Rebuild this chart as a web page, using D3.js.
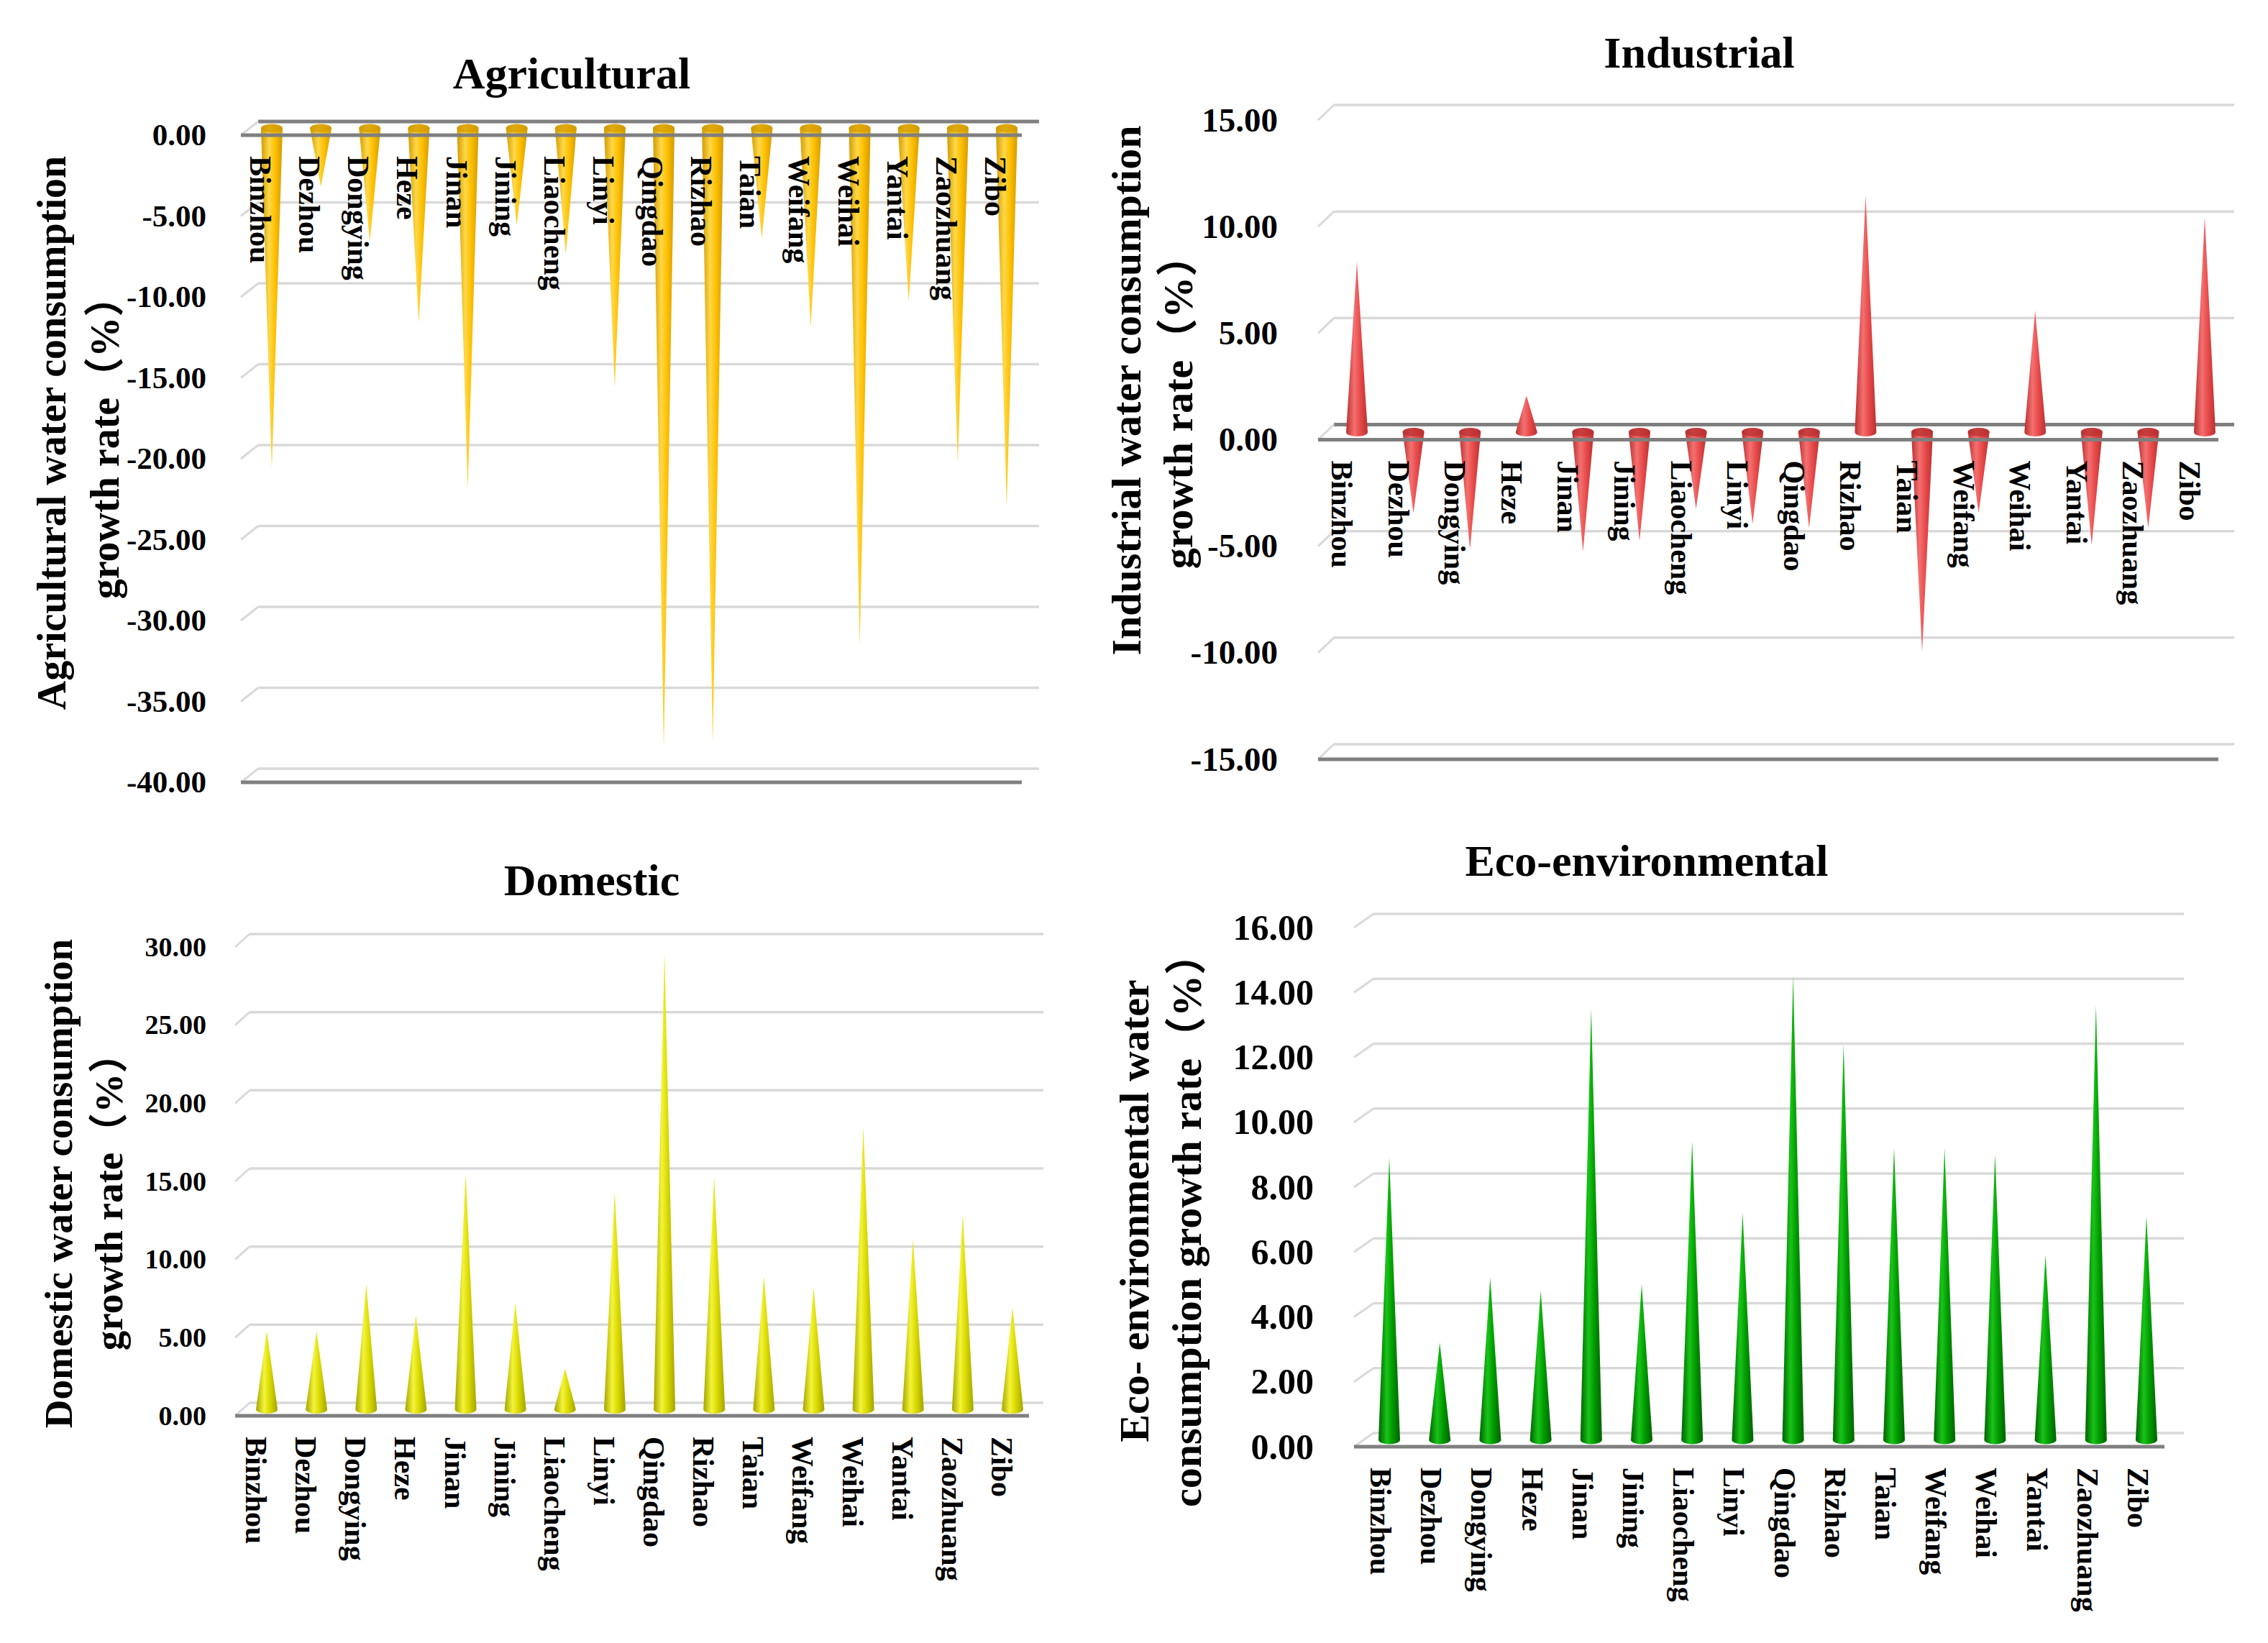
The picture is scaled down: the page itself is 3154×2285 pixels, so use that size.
<!DOCTYPE html>
<html>
<head>
<meta charset="utf-8">
<title>Water consumption growth rate by city</title>
<script src="https://d3js.org/d3.v7.min.js"></script>
<style>
  body { margin: 0; background: #fff; }
  svg text { font-family: "Liberation Serif", "Times New Roman", "Noto Sans CJK SC", serif; font-weight: bold; fill: #000; }
</style>
</head>
<body>
<svg id="chart"></svg>
<script>
// cities on the category axis (same order in every panel)
const cities = ["Binzhou", "Dezhou", "Dongying", "Heze", "Jinan", "Jining", "Liaocheng", "Linyi",
                "Qingdao", "Rizhao", "Taian", "Weifang", "Weihai", "Yantai", "Zaozhuang", "Zibo"];

// growth rates (%)
const agricultural = [-21.0, -3.6, -7.0, -12.0, -22.3, -6.0, -7.8, -16.0, -38.3, -38.0, -6.8, -12.3, -32.0, -10.7, -20.7, -23.4];
const industrial   = [8.0, -3.8, -5.5, 1.7, -5.6, -5.1, -3.6, -4.3, -4.5, 11.1, -10.3, -3.8, 5.7, -5.3, -4.5, 10.1];
const domestic     = [5.0, 5.0, 8.0, 6.0, 15.1, 6.8, 2.6, 13.9, 29.2, 14.9, 8.5, 7.8, 18.1, 10.9, 12.5, 6.5];
const ecological   = [8.7, 3.0, 5.0, 4.6, 13.3, 4.8, 9.2, 7.0, 14.3, 12.2, 9.0, 9.0, 8.8, 5.7, 13.4, 6.9];

// y tick values
const agriTicks = [0, -5, -10, -15, -20, -25, -30, -35, -40];
const indTicks  = [15, 10, 5, 0, -5, -10, -15];
const domTicks  = [0, 5, 10, 15, 20, 25, 30];
const ecoTicks  = [0, 2, 4, 6, 8, 10, 12, 14, 16];

const W = 3154, H = 2285;
const light = "#d9d9d9", dark = "#7f7f7f";
const fmt = d3.formatLocale({decimal: ".", thousands: ",", grouping: [3], currency: ["", ""], minus: "-"}).format(".2f");

// layout of each panel (pixels)
const panels = [
  { id: "agri", title: "Agricultural", values: agricultural, ticks: agriTicks, domain: [-40, 0],
    yRange: [1088, 188], front: [335, 1421], depth: [24, 19], cones: [378, 1400], labelShift: -16,
    tickX: 287, tickSize: 43, titleX: 795, titleY: 123,
    axisTitle: ["Agricultural water consumption", "growth rate（%）"], axisX: [72, 146], axisY: [602, 609], axisSize: 56,
    colors: ["#d29a00", "#ffd84a", "#ffc000"] },
  { id: "ind", title: "Industrial", values: industrial, ticks: indTicks, domain: [-15, 15],
    yRange: [1056, 167], front: [1833, 3085], depth: [22, 21], cones: [1887, 3066], labelShift: -21,
    tickX: 1777, tickSize: 47, titleX: 2363, titleY: 94,
    axisTitle: ["Industrial water consumption", "growth rate（%）"], axisX: [1566, 1638], axisY: [543, 559], axisSize: 58,
    colors: ["#b83030", "#f47070", "#e84a4a"] },
  { id: "dom", title: "Domestic", values: domestic, ticks: domTicks, domain: [0, 30],
    yRange: [1969, 1317], front: [327, 1431], depth: [20, 18], cones: [371, 1408], labelShift: -15,
    tickX: 287, tickSize: 38, titleX: 823, titleY: 1245,
    axisTitle: ["Domestic water consumption", "growth rate（%）"], axisX: [81, 151], axisY: [1646, 1658], axisSize: 55,
    colors: ["#a4a400", "#f4f43a", "#d8d800"] },
  { id: "eco", title: "Eco-environmental", values: ecological, ticks: ecoTicks, domain: [0, 16],
    yRange: [2012, 1290], front: [1883, 3010], depth: [27, 19], cones: [1932, 2985], labelShift: -12,
    tickX: 1827, tickSize: 50, titleX: 2290, titleY: 1218,
    axisTitle: ["Eco- environmental water", "consumption growth rate（%）"], axisX: [1577, 1650], axisY: [1684, 1697], axisSize: 58,
    colors: ["#006000", "#19c419", "#009a00"] }
];

const svg = d3.select("#chart").attr("width", W).attr("height", H);
svg.append("rect").attr("width", W).attr("height", H).attr("fill", "#fff");
const defs = svg.append("defs");

const coneW = 30, coneRy = 6;

panels.forEach(p => {
  const y = d3.scaleLinear().domain(p.domain).range(p.yRange);
  const x = d3.scalePoint().domain(cities).range(p.cones);
  const [dx, dy] = p.depth;
  const [xl, xr] = p.front;
  const g = svg.append("g").attr("class", "panel-" + p.id);

  // shading across each cone
  const grad = defs.append("linearGradient").attr("id", "grad-" + p.id)
    .attr("x1", "0%").attr("x2", "100%").attr("y1", "0%").attr("y2", "0%");
  grad.append("stop").attr("offset", "0%").attr("stop-color", p.colors[0]);
  grad.append("stop").attr("offset", "38%").attr("stop-color", p.colors[1]);
  grad.append("stop").attr("offset", "65%").attr("stop-color", p.colors[2]);
  grad.append("stop").attr("offset", "100%").attr("stop-color", p.colors[0]);

  // back wall gridlines and side wall slants
  g.append("g").selectAll("line").data(p.ticks).join("line")
    .attr("x1", xl + dx).attr("x2", xr + dx)
    .attr("y1", d => y(d) - dy).attr("y2", d => y(d) - dy)
    .attr("stroke", d => (d === 0 && p.domain[0] < 0) ? dark : light)
    .attr("stroke-width", d => (d === 0 && p.domain[0] < 0) ? 5 : 3.5);
  g.append("g").selectAll("line").data(p.ticks).join("line")
    .attr("x1", xl).attr("y1", d => y(d))
    .attr("x2", xl + dx).attr("y2", d => y(d) - dy)
    .attr("stroke", light).attr("stroke-width", 3);

  // cones
  const base = y(0) - dy / 2;
  const cone = g.append("g").selectAll("g").data(cities.map((c, i) => ({c, v: p.values[i]}))).join("g");
  cone.append("path")
    .attr("fill", `url(#grad-${p.id})`)
    .attr("d", d => {
      const cx = x(d.c), tip = y(d.v) - dy / 2, h = coneW / 2;
      const sweep = d.v >= 0 ? 1 : 0;
      return `M${cx - h},${base} L${cx},${tip} L${cx + h},${base} A${h},${coneRy} 0 0 ${sweep} ${cx - h},${base} Z`;
    });
  cone.filter(d => d.v < 0).append("ellipse")
    .attr("cx", d => x(d.c)).attr("cy", base)
    .attr("rx", coneW / 2).attr("ry", coneRy)
    .attr("fill", p.colors[0]).attr("opacity", 0.75);

  // front axis lines
  g.append("g").selectAll("line").data(Array.from(new Set([0, p.domain[0]]))).join("line")
    .attr("x1", xl).attr("x2", xr)
    .attr("y1", d => y(d)).attr("y2", d => y(d))
    .attr("stroke", dark).attr("stroke-width", 5);

  // category labels
  g.append("g").selectAll("text").data(cities).join("text")
    .attr("transform", d => `translate(${x(d) + p.labelShift},${y(0) + 29}) rotate(90)`)
    .attr("dominant-baseline", "central")
    .attr("font-size", 42)
    .text(d => d);

  // y ticks
  const axis = g.append("g").attr("transform", `translate(${p.tickX},0)`)
    .call(d3.axisLeft(y).tickValues(p.ticks).tickFormat(fmt).tickSize(0).tickPadding(0));
  axis.select(".domain").remove();
  axis.selectAll("text")
    .attr("font-size", p.tickSize)
    .attr("font-family", null)
    .attr("fill", "#000");

  // panel title
  g.append("text").attr("x", p.titleX).attr("y", p.titleY)
    .attr("text-anchor", "middle").attr("font-size", 62)
    .text(p.title);

  // y axis title (two lines)
  g.append("g").selectAll("text").data(p.axisTitle).join("text")
    .attr("transform", (d, i) => `translate(${p.axisX[i]},${p.axisY[i]}) rotate(-90)`)
    .attr("text-anchor", "middle")
    .attr("dominant-baseline", "central")
    .attr("font-size", p.axisSize)
    .text(d => d);
});
</script>
</body>
</html>
